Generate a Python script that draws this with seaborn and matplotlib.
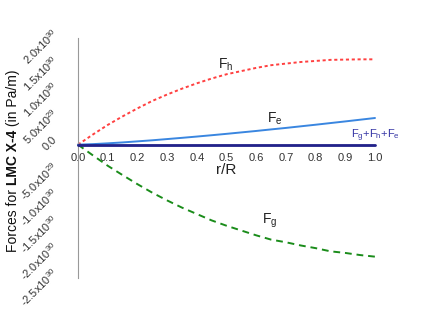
import matplotlib
matplotlib.use("Agg")
import matplotlib.pyplot as plt
import matplotlib.transforms as mtransforms
import seaborn as sns

# radius fraction r/R
r = [0.0, 0.05, 0.1, 0.15, 0.2, 0.25, 0.3, 0.35, 0.4, 0.45, 0.5,
     0.55, 0.6, 0.65, 0.7, 0.75, 0.8, 0.85, 0.9, 0.95, 1.0]
# forces in units of 1e30 Pa/m
f_h = [0.0, 0.19, 0.37, 0.53, 0.68, 0.82, 0.94, 1.05, 1.15, 1.24, 1.32,
       1.38, 1.44, 1.49, 1.52, 1.55, 1.57, 1.59, 1.595, 1.60, 1.60]
f_e = [0.0, 0.010, 0.025, 0.042, 0.062, 0.082, 0.105, 0.128, 0.152, 0.177, 0.203,
       0.230, 0.257, 0.286, 0.314, 0.344, 0.374, 0.405, 0.436, 0.468, 0.50]
f_g = [0.0, -0.20, -0.395, -0.57, -0.74, -0.90, -1.045, -1.18, -1.30, -1.42, -1.52,
       -1.61, -1.70, -1.78, -1.83, -1.89, -1.94, -2.00, -2.03, -2.07, -2.10]
f_sum = [0.0] * 21

y_ticks = [2.0, 1.5, 1.0, 0.5, 0.0, -0.5, -1.0, -1.5, -2.0, -2.5]
y_labels = [r'2.0x10$^{30}$', r'1.5x10$^{30}$', r'1.0x10$^{30}$', r'5.0x10$^{29}$', '0.0',
            r'-5.0x10$^{29}$', r'-1.0x10$^{30}$', r'-1.5x10$^{30}$', r'-2.0x10$^{30}$',
            r'-2.5x10$^{30}$']
x_ticks = [0.0, 0.1, 0.2, 0.3, 0.4, 0.5, 0.6, 0.7, 0.8, 0.9, 1.0]

sns.set_style("white")
plt.rcParams['font.family'] = ['Liberation Sans', 'DejaVu Sans']
plt.rcParams['mathtext.fontset'] = 'custom'
plt.rcParams['mathtext.rm'] = 'Liberation Sans'

navy = '#22228a'
fig = plt.figure(figsize=(4.36, 3.34), dpi=100)
ax = fig.add_axes([78 / 436, 56 / 334, 297 / 436, 240 / 334])

sns.lineplot(x=r, y=f_h, ax=ax, color='#ff4040', lw=1.4,
             linestyle=(0, (1.6, 1.4)), clip_on=False)
sns.lineplot(x=r, y=f_e, ax=ax, color='#3a86e0', lw=1.4, clip_on=False)
sns.lineplot(x=r, y=f_g, ax=ax, color='#1a8c1a', lw=1.4,
             linestyle=(0, (3.5, 2.5)), clip_on=False)
sns.lineplot(x=r, y=f_sum, ax=ax, color=navy, lw=2.0, clip_on=False, zorder=5)

ax.set_xlim(0, 1)
ax.set_ylim(-2.5, 2.0)
for s in ['top', 'right']:
    ax.spines[s].set_visible(False)
ax.spines['bottom'].set_position(('data', 0))
ax.spines['bottom'].set_color(navy)
ax.spines['bottom'].set_linewidth(1.0)
ax.spines['left'].set_color('#999999')
ax.spines['left'].set_bounds(-2.5, 2.0)

ax.set_xticks(x_ticks)
ax.set_xticklabels([f'{v:.1f}' for v in x_ticks], fontsize=8, color='#333333')
ax.tick_params(axis='x', direction='out', length=4, width=0.8, color='#333366', pad=2)
ax.set_yticks(y_ticks)
ax.set_yticklabels(y_labels, fontsize=8, color='#333333', rotation=45,
                   ha='right', va='center', rotation_mode='anchor')
ax.tick_params(axis='y', direction='out', length=5, width=0.8, color='#999999', pad=11)
shift = mtransforms.ScaledTranslation(0, 0.07, fig.dpi_scale_trans)
for lbl in ax.get_yticklabels():
    lbl.set_transform(lbl.get_transform() + shift)

ax.text(0.5, -0.47, 'r/R', fontsize=11, ha='center', va='center', color='#222222')

ax.text(0.47, 1.35, r'F$_\mathregular{h}$', fontsize=10, color='#222222', ha='left', va='bottom')
ax.text(0.635, 0.33, r'F$_\mathregular{e}$', fontsize=10, color='#222222', ha='left', va='bottom')
ax.text(0.62, -1.6, r'F$_\mathregular{g}$', fontsize=10, color='#222222', ha='left', va='bottom')
ax.text(1.0, 0.02, r'F$_\mathregular{g}$+F$_\mathregular{h}$+F$_\mathregular{e}$',
        fontsize=8, color='#3535a5', ha='center', va='bottom')

# y label with bold part
t1 = fig.text(13 / 436, (334 - 252) / 334, 'Forces for ', rotation=90, fontsize=10,
              ha='center', va='bottom', color='#111111')
t2 = ax.annotate('LMC X-4', xy=(0.5, 1), xycoords=t1, rotation=90, fontsize=10,
                 fontweight='bold', ha='center', va='bottom', color='#111111')
t3 = ax.annotate(' (in Pa/m)', xy=(0.5, 1), xycoords=t2, rotation=90, fontsize=10,
                 ha='center', va='bottom', color='#111111')

fig.savefig('out.png', dpi=100)
